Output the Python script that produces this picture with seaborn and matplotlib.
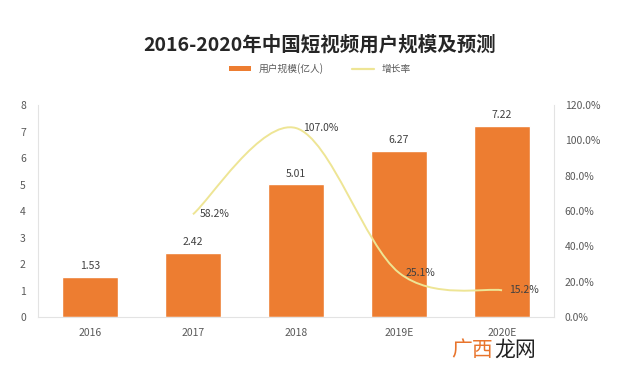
import matplotlib
matplotlib.use("Agg")
import matplotlib.pyplot as plt
from matplotlib.path import Path
from matplotlib.patches import PathPatch, Patch
from matplotlib.lines import Line2D
from matplotlib.ticker import PercentFormatter
import seaborn as sns
import pandas as pd

categories = ["2016", "2017", "2018", "2019E", "2020E"]
users = [1.53, 2.42, 5.01, 6.27, 7.22]
growth_categories = ["2017", "2018", "2019E", "2020E"]
growth = [58.2, 107.0, 25.1, 15.2]
title = "2016-2020年中国短视频用户规模及预测"
bar_name = "用户规模(亿人)"
line_name = "增长率"

BAR = "#ED7D31"
LINE = "#EEE595"
TXT = "#595959"

sns.set_theme(style="white")
plt.rcParams["font.family"] = ["Noto Sans CJK SC", "DejaVu Sans"]

fig = plt.figure(figsize=(6.4, 3.74), dpi=100)
ax = fig.add_axes([0.060, 0.152, 0.805, 0.567])

df = pd.DataFrame({"year": categories, "users": users})
sns.barplot(data=df, x="year", y="users", color=BAR, width=0.54, ax=ax,
            saturation=1)
ax.set_ylim(0, 8)
ax.set_xlim(-0.5, 4.5)
ax.set_yticks(range(0, 9))
ax.set_xlabel("")
ax.set_ylabel("")
for c in ax.containers:
    ax.bar_label(c, labels=[f"{v:.2f}" for v in users], padding=4,
                 fontsize=7.5, color="#404040")
ax.tick_params(axis="x", length=0, labelsize=7.5, labelcolor=TXT, pad=8)
ax.tick_params(axis="y", length=0, labelsize=7.5, labelcolor=TXT, pad=9)
ax.spines["top"].set_visible(False)
for s in ["left", "right", "bottom"]:
    ax.spines[s].set_color("#E3E3E3")
    ax.spines[s].set_linewidth(0.8)

ax2 = ax.twinx()
ax2.set_ylim(0, 120)
ax2.set_yticks(range(0, 121, 20))
ax2.yaxis.set_major_formatter(PercentFormatter(decimals=1))
ax2.tick_params(axis="y", length=0, labelsize=7.5, labelcolor=TXT, pad=8)
for s in ax2.spines.values():
    s.set_visible(False)

# smooth line (Catmull-Rom as cubic Bezier) through the growth points
xs = [categories.index(c) for c in growth_categories]
pts = list(zip(xs, growth))
verts = [pts[0]]
codes = [Path.MOVETO]
n = len(pts)
for i in range(n - 1):
    p0 = pts[i - 1] if i > 0 else pts[i]
    p1 = pts[i]
    p2 = pts[i + 1]
    p3 = pts[i + 2] if i + 2 < n else pts[i + 1]
    c1 = (p1[0] + (p2[0] - p0[0]) / 6, p1[1] + (p2[1] - p0[1]) / 6)
    c2 = (p2[0] - (p3[0] - p1[0]) / 6, p2[1] - (p3[1] - p1[1]) / 6)
    verts += [c1, c2, p2]
    codes += [Path.CURVE4] * 3
ax2.add_patch(PathPatch(Path(verts, codes), facecolor="none",
                        edgecolor=LINE, linewidth=1.4))
for x, v in zip(xs, growth):
    ax2.annotate(f"{v:.1f}%", (x, v), xytext=(5, 0), textcoords="offset points",
                 ha="left", va="center", fontsize=7.5, color="#404040")

fig.text(0.5, 0.88, title, ha="center", va="center", fontsize=14,
         fontweight="bold", color="#262626")

handles = [Patch(facecolor=BAR, edgecolor="none"),
           Line2D([0], [0], color=LINE, lw=1.6)]
fig.legend(handles, [bar_name, line_name], loc="center", ncol=2,
           bbox_to_anchor=(0.5, 0.817), frameon=False, fontsize=7,
           handlelength=2.2, handleheight=0.5, columnspacing=3,
           labelcolor=TXT)

fig.text(0.705, 0.065, "广西", ha="left", va="center", fontsize=15,
         color="#E8742C")
fig.text(0.773, 0.065, "龙网", ha="left", va="center", fontsize=15,
         color="#222222")

fig.savefig("out.png", dpi=100)
